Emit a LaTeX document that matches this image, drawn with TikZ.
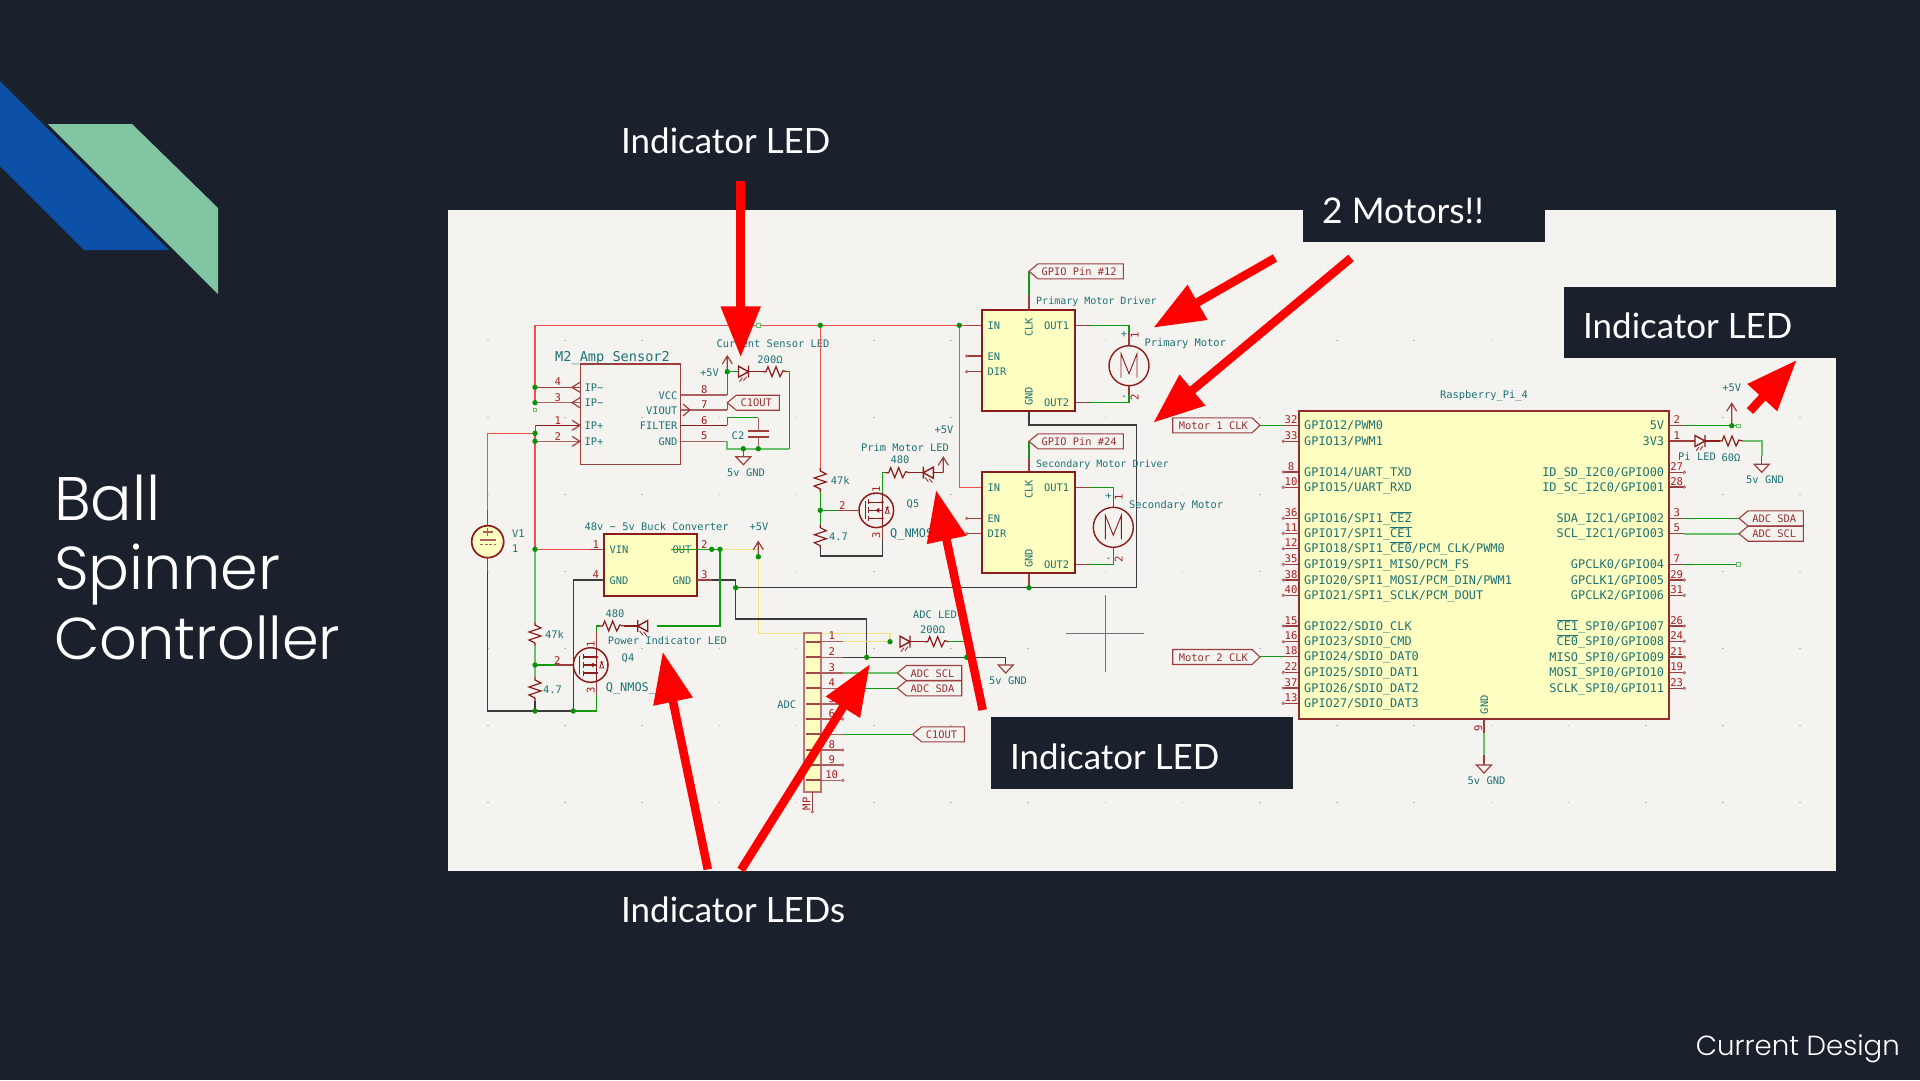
\documentclass[tikz,border=0pt]{standalone}
\usepackage{fontspec}
\usetikzlibrary{arrows.meta}
\setmainfont{Lato}
\newfontfamily\kfont{DejaVu Sans Mono}
\newfontfamily\titlefont{Poppins Light}
\definecolor{bgc}{HTML}{1A212D}
\definecolor{panelc}{HTML}{F5F3EF}
\definecolor{teal2}{HTML}{1C7274}
\definecolor{pinred}{HTML}{A81E1E}
\definecolor{bodyc}{HTML}{8A1C1C}
\definecolor{fillc}{HTML}{FFFFC2}
\definecolor{wgreen}{HTML}{0F9A0F}
\definecolor{wlgreen}{HTML}{6CC06C}
\definecolor{wred}{HTML}{EE5050}
\definecolor{wdark}{HTML}{3C3C3C}
\definecolor{wyel}{HTML}{F0E27A}
\definecolor{juncc}{HTML}{0A900A}
\definecolor{decob}{HTML}{0B4FA6}
\definecolor{decog}{HTML}{82C5A2}
\newcounter{nn}
\newcommand\T[4]{\stepcounter{nn}\node[#1] (t\arabic{nn}) at (#2,#3) {#4};}
\newcommand\ovl[1]{$\overline{\hbox{#1}}$}
\newcommand\junc[2]{\fill[juncc] (#1,#2) circle (2.7);}
\newcommand\sqm[2]{\draw[wlgreen,line width=1,fill=panelc] (#1-1.7,#2-1.7) rectangle (#1+1.7,#2+1.7);}
\newcommand\ndot[2]{\draw[pinl,fill=panelc,line width=.8] (#1,#2) circle (1.2);}
\newcommand\resH[2]{\draw[body1,shift={(#1,#2)}] (-12,0)--(-9,0)--(-7,-5)--(-3,5)--(1,-5)--(5,5)--(8,-1)--(12,0);}
\newcommand\resV[2]{\draw[body1,shift={(#1,#2)}] (0,-12)--(0,-9)--(6,-6)--(-6,-2)--(6,2)--(-6,6)--(0,9)--(0,12);}
\newcommand\led[3]{\begin{scope}[shift={(#1,#2)},xscale=#3]
\draw[body1,line width=1.4] (-5,-5.5)--(5,0)--(-5,5.5)--cycle (5,-6)--(5,6);
\draw[body1,line width=.8] (-1,6)--(-4,10) (3,5)--(0,9);
\end{scope}}
\newcommand\gndsym[2]{\draw[pin1] (#1-7.5,#2)--(#1+7.5,#2)--(#1,#2+8)--cycle;}
\newcommand\pwr[3]{\draw[pin1] (#1,#3)--(#1,#2) (#1-5,#2+8)--(#1,#2)--(#1+5,#2+8);}
\newcommand\glabL[5][bodyc]{\draw[label1] (#2,#3)--(#2+9,#3-7.5)--(#4,#3-7.5)--(#4,#3+7.5)--(#2+9,#3+7.5)--cycle;
\T{lbltxt}{#2/2+#4/2+3}{#3}{#5}}
\newcommand\glabR[4]{\draw[label1] (#2,#3)--(#2-8,#3-7.5)--(#1,#3-7.5)--(#1,#3+7.5)--(#2-8,#3+7.5)--cycle;
\T{lbltxt}{#1/2+#2/2-3}{#3}{#4}}
\newcommand\fet[2]{\begin{scope}[shift={(#1,#2)}]
\draw[bodyc,line width=1.5] (0,0) circle (17.3);
\draw[bodyc,line width=1.2] (-11,-9)--(-11,9) (-7.5,-11)--(-7.5,-6) (-7.5,-3)--(-7.5,3) (-7.5,6)--(-7.5,11)
(-7.5,-8)--(6,-8) (-7.5,8)--(6,8) (-7.5,0)--(6,0) (6,-17)--(6,17) (6,0)--(6,8);
\fill[bodyc] (6,-8) circle (1.6) (6,8) circle (1.6) (-1,0)--(3,-2.5)--(3,2.5)--cycle;
\draw[bodyc,line width=.8] (9,-3)--(13,-3) (9,3)--(13,3)--(11,-3)--(9,3) ;
\end{scope}}
\newcommand\motor[2]{\begin{scope}[shift={(#1,#2)}]
\draw[bodyc,line width=1.4] (0,0) circle (20);
\draw[bodyc,line width=.9] (-8,12)--(-8,-12)--(0,8)--(8,-12)--(8,12);
\end{scope}}
\newcommand\icbox[4]{\draw[bodyc,line width=2,fill=fillc] (#1,#2) rectangle (#3,#4);}
\tikzset{
 wg/.style={wgreen,line width=1.3},
 wgl/.style={wlgreen,line width=1.7},
 wr/.style={wred,line width=1.5},
 wk/.style={wdark,line width=1.3},
 wy/.style={wyel,line width=1.4},
 pin1/.style={bodyc!85!white,line width=1.2},
 pinl/.style={bodyc!70!white,line width=1.5},
 body1/.style={bodyc,line width=1.2,line join=miter},
 label1/.style={bodyc!85!white,line width=1.1},
 kbase/.style={inner sep=0,text height=7pt,text depth=1pt,yshift=-1.2pt,font=\kfont\fontsize{10.4}{12}\selectfont},
 lab/.style={kbase,text=teal2},
 labl/.style={lab,anchor=west},
 labr/.style={lab,anchor=east},
 pnm/.style={kbase,text=teal2,font=\kfont\fontsize{11.9}{13}\selectfont},
 pnum/.style={kbase,text=pinred,font=\kfont\fontsize{10.6}{12}\selectfont},
 lbltxt/.style={kbase,text=bodyc!90!white},
 qname/.style={pnm,anchor=west},
 big/.style={inner sep=0,text=white,font=\fontsize{34.9}{40}\selectfont},
 ttl/.style={inner sep=0,anchor=base west,text=white},
 redarrow/.style={red,line width=8.5,-{Triangle[length=51pt,width=38pt]}},
}
\begin{document}
\begin{tikzpicture}[x=1pt,y=-1pt]
\useasboundingbox (0,0) rectangle (1920,1080);
\fill[bgc] (0,0) rectangle (1920,1080);
% corner decoration
\fill[decob] (0,81)--(169,250)--(84,250)--(0,166)--cycle;
\fill[decog] (48,124)--(132,124)--(218,208)--(218,294)--cycle;
% title
\T{ttl,font=\titlefont\fontsize{61.5}{62}\selectfont}{54}{520}{Ball}
\T{ttl,font=\titlefont\fontsize{60.6}{62}\selectfont}{54}{589}{Spinner}
\T{ttl,font=\titlefont\fontsize{59}{62}\selectfont}{54}{659}{Controller}
\T{inner sep=0,anchor=base east,text=white,font=\titlefont\fontsize{27.6}{28}\selectfont}{1900}{1055}{Current Design}
% panel
\fill[panelc] (448,209.5) rectangle (1836,870.6);
\foreach \i in {0,...,17}\foreach \j in {0,...,6}{\fill[black!28] ({487.7+77.2*\i-.8},{340+77*\j-.4}) rectangle ++(1.6,.8);}
% cursor cross
\draw[black!55,line width=.9] (1066,633.5)--(1144,633.5) (1105,595)--(1105,672);
% ---------- amp sensor
\draw[wr] (535,325.3)--(981.7,325.3);
\draw[wr] (535,325.3)--(535,402.7);
\sqm{535}{409.7}\sqm{758.3}{325.3}
\draw[pin1] (535,387.3)--(581,387.3);
\draw[pinl] (535,402.7)--(581,402.7);
\draw[body1,line width=1.3] (535,425.3)--(581,425.3);
\draw[pinl] (535,441.3)--(581,441.3);
\foreach \y in {387.3,402.7}{\draw[pin1] (580,\y-5)--(572,\y)--(580,\y+5);}
\foreach \y in {425.3,441.3}{\draw[pin1] (572,\y-5)--(580,\y)--(572,\y+5);}
\draw[bodyc!85!white,line width=1.3] (580.7,364) rectangle (680.7,464.7);
\draw[wr] (535,433.3)--(487.7,433.3)--(487.7,512);
\draw[wgreen,line width=1] (535,425.3)--(535,433.3);
\draw[wr] (535,433.3)--(535,549.3);
\draw[pinl] (680.7,395)--(727.3,395);
\draw[pinl] (680.7,410)--(727.3,410);
\draw[body1] (680.7,425.3)--(727.3,425.3);
\draw[pinl] (680.7,441.3)--(727.3,441.3);
\draw[pin1] (683,404)--(690,410)--(683,416);
\draw[wg] (727.3,395)--(727.3,371.7)--(739,371.7);
\pwr{727.3}{356}{371.7}
\led{743.5}{371.7}{1}
\draw[body1] (749,371.7)--(763,371.7);
\resH{775}{371.7}
\draw[wg] (787,371.7)--(789.3,371.7)--(789.3,448.7);
\draw[wgl] (789.3,448.7)--(727.3,448.7)--(727.3,441.3);
\draw[wg] (727.3,410)--(727.3,402.7);
\draw[wg] (727.3,425.3)--(727.3,417.7)--(758.3,417.7);
\draw[pinl] (758.3,417.7)--(758.3,430.7) (758.3,436.7)--(758.3,448.7);
\draw[bodyc!85!white,line width=1.8] (748,430.7)--(769,430.7) (748,436.7)--(769,436.7);
\draw[pin1] (743.3,448.7)--(743.3,456.7);
\gndsym{743.3}{456.7}
\junc{727.3}{371.7}\junc{743.3}{448.7}\junc{758.3}{448.7}
\junc{535}{387.3}\junc{535}{402.7}\junc{535}{433.3}\junc{535}{441.3}
\glabL{727.3}{402.7}{779.3}{C1OUT}
\T{lab}{773}{343.7}{Current Sensor LED}
\T{lab}{770}{359.5}{200Ω}
\T{lab,font=\kfont\fontsize{13.6}{14}\selectfont}{612.5}{357}{M2\_Amp\_Sensor2}
\T{labr}{719}{372}{+5V}
\T{labl}{584.3}{387.3}{IP−}\T{labl}{584.3}{402.7}{IP−}
\T{labl}{584.3}{425.3}{IP+}\T{labl}{584.3}{441.3}{IP+}
\T{labr}{677.7}{395}{VCC}\T{labr}{677.7}{410}{VIOUT}\T{labr}{677.7}{425.3}{FILTER}\T{labr}{677.7}{441.3}{GND}
\T{pnum}{557.7}{381}{4}\T{pnum}{557.7}{397}{3}\T{pnum}{557.7}{420}{1}\T{pnum}{557.7}{436}{2}
\T{pnum}{704.3}{389.3}{8}\T{pnum}{704.3}{404}{7}\T{pnum}{704.3}{420}{6}\T{pnum}{704.3}{435.7}{5}
\T{lab}{738}{435}{C2}
\T{lab}{746}{472}{5v GND}
% ---------- V1
\draw[pin1] (487.7,510)--(487.7,525) (487.7,558)--(487.7,572);
\draw[wk] (487.7,572)--(487.7,711)--(573.3,711);
\draw[bodyc,line width=1.7,fill=fillc] (487.7,541.7) circle (16);
\draw[bodyc!70!white,line width=1.1] (483,532)--(492.5,532) (487.7,527.5)--(487.7,536) (480,540)--(495.5,540);
\draw[bodyc!70!white,line width=1.1,dash pattern=on 3pt off 1.5pt] (480,544.5)--(495.5,544.5);
\T{labl}{512}{533}{V1}\T{labl}{512}{548}{1}
% ---------- buck
\draw[wr] (535,549.3)--(590,549.3);
\draw[pin1] (590,549.3)--(604,549.3);
\draw[wgl] (535,549.3)--(535,622);
\resV{535}{634}
\draw[wgl] (535,646)--(535,677);
\resV{535}{689}
\draw[wk] (535,711)--(535,701);
\draw[wg] (535,665)--(556,665);
\draw[pin1] (556,665)--(573,665);
\draw[wk] (604,580)--(573.3,580)--(573.3,711);
\draw[wg] (573.3,711)--(596.7,711)--(596.7,695);
\draw[pin1] (596.7,695)--(596.7,682);
\icbox{604}{534}{696.7}{595.7}
\T{labl}{609.3}{549.3}{VIN}\T{labl}{609.3}{580}{GND}
\T{labr}{691.7}{549.3}{OUT}\T{labr}{691.7}{580}{GND}
\T{pnum}{595.7}{544}{1}\T{pnum}{595.7}{574}{4}\T{pnum}{704.3}{544}{2}\T{pnum}{704.3}{574}{3}
\draw[wg] (671,549.3)--(720,549.3);
\draw[pin1] (696.7,580)--(712,580);
\draw[wy] (720,549.3)--(758.3,549.3);
\draw[wy] (758.3,556.7)--(758.3,633.3)--(890,633.3)--(890,641.7);
\pwr{758.3}{541.7}{556.7}
\junc{758.3}{556.7}\junc{711.7}{549.3}\junc{720}{549.3}
\T{lab}{656.7}{526}{48v − 5v Buck Converter}
\T{lab}{759}{526}{+5V}
\draw[wk] (712,580)--(735.7,580)--(735.7,619)--(866.7,619)--(866.7,657.3);
\draw[wk] (735.7,587.7)--(1136.7,587.7)--(1136.7,425)--(1029,425)--(1029,411.3);
\junc{735.7}{587.7}
% power LED
\draw[wg] (720,549.3)--(720,626)--(657.3,626);
\led{642.7}{626}{-1}
\draw[body1] (637,626)--(624,626);
\resH{611.7}{626}
\draw[wg] (600,626)--(596.7,626)--(596.7,632);
\draw[pin1] (596.7,632)--(596.7,648);
\fet{590.7}{665}
\T{pnum,rotate=90}{591.7}{643}{1}\T{pnum}{557.3}{660}{2}\T{pnum,rotate=90}{591.7}{689}{3}
\junc{535}{549.3}\junc{535}{665}\junc{535}{711}\junc{573.3}{711}
\T{labl}{545}{634}{47k}\T{labl}{543}{689.5}{4.7}
\T{lab}{615}{613.7}{480}
\T{lab}{667.3}{640}{Power Indicator LED}
\T{lab}{628}{657.7}{Q4}
\T{qname}{605.7}{687}{Q\_NMOS\_}
% ---------- prim motor LED
\draw[wr] (820.3,325.3)--(820.3,468);
\resV{820.3}{480}
\draw[wg] (820.3,492)--(820.3,524.7);
\resV{820.3}{536.7}
\draw[wk] (820.3,548)--(820.3,556)--(882.3,556)--(882.3,540);
\draw[wg] (820.3,510.3)--(838,510.3);
\draw[pin1] (838,510.3)--(858,510.3);
\draw[pin1] (882.3,540)--(882.3,527);
\fet{876.3}{510.3}
\draw[wg] (882.3,493)--(882.3,472.7)--(886,472.7);
\resH{897.7}{472.7}
\draw[body1] (910,472.7)--(923,472.7);
\led{928.3}{472.7}{-1}
\draw[body1] (934,472.7)--(943.3,472.7);
\pwr{943.3}{457.3}{472.7}
\T{pnum,rotate=90}{877}{488}{1}\T{pnum}{842.3}{505}{2}\T{pnum,rotate=90}{877}{534}{3}
\junc{820.3}{325.3}\junc{820.3}{510.3}
\T{labl}{830.7}{480}{47k}\T{labl}{829}{536.7}{4.7}
\T{lab}{944}{429.3}{+5V}
\T{lab}{905}{447.3}{Prim Motor LED}
\T{lab}{900}{459.3}{480}
\T{lab}{913}{503}{Q5}
\T{qname}{890}{533}{Q\_NMOS\_}
% ---------- drivers
\draw[wr] (959.3,325.3)--(959.3,487.3)--(981.7,487.3);
\junc{959.3}{325.3}
\draw[pin1] (965,325.3)--(981.7,325.3);
\foreach \y in {356,371.7,518.3,533.7}{\draw[pin1] (966.7,\y)--(981.7,\y);\ndot{966.7}{\y}}
\draw[wg] (1029,271.3)--(1029,295);\draw[pin1] (1029,295)--(1029,310);
\draw[wg] (1029,441)--(1029,458);\draw[pin1] (1029,458)--(1029,472.3);
\draw[pin1] (1029,572.7)--(1029,587.7);
\icbox{981.7}{310}{1075.3}{411.3}
\icbox{981.7}{472.3}{1075.3}{572.7}
\junc{1029}{587.7}
\glabL{1029}{271.3}{1123.3}{GPIO Pin \#12}
\glabL{1029}{441.3}{1123.3}{GPIO Pin \#24}
\T{lab,font=\kfont\fontsize{10}{12}\selectfont,anchor=west}{1036}{300.7}{Primary Motor Driver}
\T{lab,font=\kfont\fontsize{10}{12}\selectfont,anchor=west}{1036}{463}{Secondary Motor Driver}
\foreach \o in {0,162}{
\T{labl}{987.3}{325.3+\o}{IN}
\T{labr}{1069.3}{325.3+\o}{OUT1}
\T{labr}{1069.3}{402.3+\o}{OUT2}
\T{lab,rotate=90}{1029.5}{326+\o}{CLK}
\T{lab,rotate=90}{1029.5}{395+\o}{GND}
}
\T{labl}{987.3}{356}{EN}\T{labl}{987.3}{371.7}{DIR}
\T{labl}{987.3}{518.3}{EN}\T{labl}{987.3}{533.7}{DIR}
% motors
\draw[pin1] (1075.3,325.3)--(1090,325.3) (1075.3,402.3)--(1090,402.3);
\draw[wg] (1090,325.3)--(1129,325.3)--(1129,333);
\draw[wg] (1090,402.3)--(1129,402.3)--(1129,395);
\draw[pin1] (1129,333)--(1129,346) (1129,395)--(1129,385);
\motor{1129}{365.7}
\T{lab}{1124}{333}{+}\T{lab}{1124}{395}{-}
\T{pnum,rotate=90}{1135.5}{334}{1}\T{pnum,rotate=90}{1135.5}{396}{2}
\T{labl}{1144.3}{342.3}{Primary Motor}
\draw[pin1] (1075.3,487.3)--(1090,487.3) (1075.3,564.3)--(1090,564.3);
\draw[wg] (1090,487.3)--(1113.3,487.3)--(1113.3,495);
\draw[wg] (1090,564.3)--(1113.3,564.3)--(1113.3,557);
\draw[pin1] (1113.3,495)--(1113.3,507) (1113.3,557)--(1113.3,547);
\motor{1113.3}{527.3}
\T{lab}{1108.5}{495}{+}\T{lab}{1108.5}{557}{-}
\T{pnum,rotate=90}{1119.5}{496}{1}\T{pnum,rotate=90}{1119.5}{558}{2}
\T{labl}{1129}{504.3}{Secondary Motor}
% ---------- ADC connector
\foreach \y/\n in {641.7/1,657.3/2,673/3,688.3/4,704/5,719/6,734.3/7,750/8,765/9,780.3/10}{
\draw[pinl] (812,\y)--(842.7,\y);
\T{pnum}{831.7}{\y-6}{\n}}
\foreach \y in {719,750,765,780.3}{\ndot{842.7}{\y}}
\draw[bodyc!60!white,line width=2,fill=fillc] (804.3,633.3) rectangle (821,791.7);
\foreach \y in {641.7,657.3,673,688.3,704,719,734.3,750,765,780.3}{\fill[bodyc!80!white] (806,\y-1) rectangle (821,\y+1);}
\draw[pin1] (812.3,791.7)--(812.3,811.7);\ndot{812.3}{811.7}
\T{pnum,rotate=90}{807.3}{802.7}{MP}
\T{lab}{786.7}{704}{ADC}
\draw[wy] (843,641.7)--(890,641.7);
\draw[wk] (843,657.3)--(1005.7,657.3)--(1005.7,665);
\draw[wgl] (843,673)--(897.3,673);
\draw[wg] (843,688.3)--(897.3,688.3);
\draw[wg] (843,734.3)--(912.7,734.3);
\glabL{897.3}{673}{961.7}{ADC SCL}
\glabL{897.3}{688.3}{961.7}{ADC SDA}
\glabL{912.7}{734.3}{964.3}{C1OUT}
\led{905}{641.7}{1}
\draw[body1] (910,641.7)--(925,641.7);
\resH{936.7}{641.7}
\draw[wg] (948,641.7)--(966.7,641.7)--(966.7,657.3);
\gndsym{1005.7}{665}
\junc{890}{641.7}\junc{866.7}{657.3}\junc{966.7}{657.3}
\T{lab}{935}{614}{ADC LED}
\T{lab}{932.7}{629.7}{200Ω}
\T{lab}{1008}{680}{5v GND}
% ---------- Raspberry Pi
\foreach \y/\n in {441.3/33,472/8,487.3/10,518.3/36,533.3/11,548.7/12,564.3/35,580/38,595.3/40,626/15,641.7/16,672.3/22,688/37,703.3/13}{
\draw[pin1] (1283.3,\y)--(1299.3,\y);\ndot{1283.3}{\y}
\T{pnum}{1291}{\y-6}{\n}}
\foreach \y/\n in {425.3/32,656.7/18}{\draw[pin1] (1283.3,\y)--(1299.3,\y);\T{pnum}{1291}{\y-6}{\n}}
\foreach \y/\n in {425.7/2,441/1,472.3/27,487/28,518.3/3,533.7/5,564.3/7,580/29,595.3/31,626/26,641.3/24,657/21,672.7/19,688.3/23}{
\draw[pin1] (1669,\y)--(1684.3,\y);
\T{pnum}{1676.7}{\y-6}{\n}}
\foreach \y in {472.3,487,580,595.3,626,641.3,657,672.7,688.3}{\ndot{1684.3}{\y}}
\draw[bodyc!92!white,line width=2,fill=fillc] (1299.3,410.7) rectangle (1669,719);
\foreach \y/\t in {425.3/{GPIO12/PWM0},441.3/{GPIO13/PWM1},472/{GPIO14/UART\_TXD},487.3/{GPIO15/UART\_RXD},518.3/{GPIO16/SPI1\_\ovl{CE2}},533.3/{GPIO17/SPI1\_\ovl{CE1}},548.7/{GPIO18/SPI1\_\ovl{CE0}/PCM\_CLK/PWM0},564.3/{GPIO19/SPI1\_MISO/PCM\_FS},580/{GPIO20/SPI1\_MOSI/PCM\_DIN/PWM1},595.3/{GPIO21/SPI1\_SCLK/PCM\_DOUT},626/{GPIO22/SDIO\_CLK},641.7/{GPIO23/SDIO\_CMD},656.7/{GPIO24/SDIO\_DAT0},672.3/{GPIO25/SDIO\_DAT1},688/{GPIO26/SDIO\_DAT2},703.3/{GPIO27/SDIO\_DAT3}}{
\T{pnm,anchor=west}{1304}{\y}{\t}}
\foreach \y/\t in {425.7/{5V},441/{3V3},472.3/{ID\_SD\_I2C0/GPIO00},487/{ID\_SC\_I2C0/GPIO01},518.3/{SDA\_I2C1/GPIO02},533.7/{SCL\_I2C1/GPIO03},564.3/{GPCLK0/GPIO04},580/{GPCLK1/GPIO05},595.3/{GPCLK2/GPIO06},626/{\ovl{CE1}\_SPI0/GPIO07},641.3/{\ovl{CE0}\_SPI0/GPIO08},657/{MISO\_SPI0/GPIO09},672.7/{MOSI\_SPI0/GPIO10},688.3/{SCLK\_SPI0/GPIO11}}{
\T{pnm,anchor=east}{1664.3}{\y}{\t}}
\T{lab}{1484}{394.7}{Raspberry\_Pi\_4}
\draw[wg] (1260,425.3)--(1283.3,425.3);
\draw[wg] (1260,656.7)--(1283.3,656.7);
\glabR{1172.7}{1260}{425.3}{Motor 1 CLK}
\glabR{1172.7}{1260}{657}{Motor 2 CLK}
\T{lab,rotate=90}{1485}{703.5}{GND}
\T{pnum,rotate=90}{1479}{727.5}{9}
\draw[pin1] (1484,719)--(1484,733);
\draw[wgl] (1484,733)--(1484,755);
\draw[pin1] (1484,755)--(1484,765);
\gndsym{1484}{765}
\T{lab}{1486.5}{780}{5v GND}
\draw[wg] (1684.3,425.7)--(1736,425.7);\sqm{1738.3}{425.7}
\pwr{1731.7}{403.3}{425.7}\junc{1731.7}{425.7}
\T{lab}{1731.7}{387.3}{+5V}
\draw[pin1] (1684.3,441)--(1695,441);
\led{1700}{441}{1}
\draw[body1] (1705,441)--(1720,441);
\resH{1731}{441}
\draw[wgl] (1743,441)--(1761.7,441)--(1761.7,456);
\draw[pin1] (1761.7,456)--(1761.7,464.3);
\gndsym{1761.7}{464.3}
\T{lab}{1697}{456.7}{Pi LED}
\T{lab}{1731}{457.7}{60Ω}
\T{lab}{1765}{479.3}{5v GND}
\draw[wg] (1684.3,518.3)--(1739,518.3);
\draw[wgl] (1684.3,533.7)--(1739,533.7);
\glabL{1739}{518.3}{1803.3}{ADC SDA}
\glabL{1739}{533.7}{1803.3}{ADC SCL}
\draw[wg] (1684.3,564.3)--(1736,564.3);\sqm{1738.3}{564.3}
% ---------- dark caption boxes
\fill[bgc] (1303,209) rectangle (1545,241.5);
\fill[bgc] (1563.7,286.5) rectangle (1836,357.6);
\fill[bgc] (990.7,717.3) rectangle (1293.3,789);
\T{big,anchor=west}{621}{141}{Indicator LED}
\T{big,anchor=west,font=\fontsize{35.4}{40}\selectfont}{1322}{211}{2 Motors!!}
\T{big,anchor=west}{1583}{326}{Indicator LED}
\T{big,anchor=west}{1010}{757}{Indicator LED}
\T{big,anchor=west}{621}{910}{Indicator LEDs}
% ---------- red arrows
\coordinate (a1s) at (740.7,181);\coordinate (a1e) at (740.7,357.3);
\coordinate (a2s) at (1275,258);\coordinate (a2e) at (1153.3,327.7);
\coordinate (a3s) at (1351,258);\coordinate (a3e) at (1153.3,422.7);
\coordinate (a4s) at (1750,411);\coordinate (a4e) at (1796.7,360);
\coordinate (a5s) at (982.7,710);\coordinate (a5e) at (936,490);
\coordinate (a6s) at (707.8,869.4);\coordinate (a6e) at (662.7,651.7);
\coordinate (a7s) at (741,870);\coordinate (a7e) at (870,664);
\foreach \k in {1,...,7}{\draw[redarrow] (a\k s)--(a\k e);}
\end{tikzpicture}
\end{document}
